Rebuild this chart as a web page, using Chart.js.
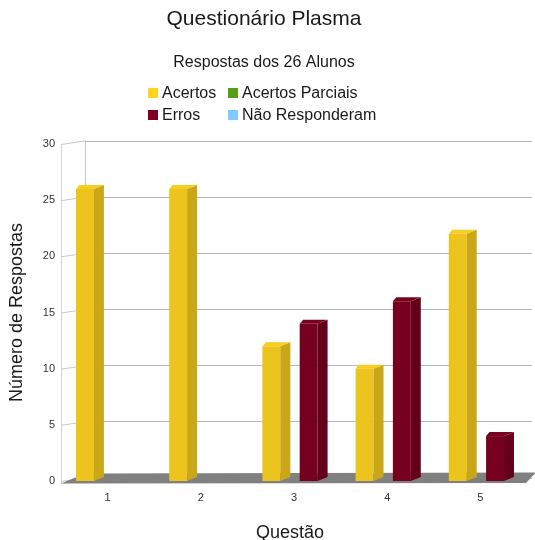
<!DOCTYPE html>
<html>
<head>
<meta charset="utf-8">
<script src="https://cdn.jsdelivr.net/npm/chart.js@4/dist/chart.umd.min.js"></script>
<style>
  html, body { margin: 0; padding: 0; background: #ffffff; }
  #wrap { width: 535px; height: 540px; }
</style>
</head>
<body>
<div id="wrap"><canvas id="c" width="535" height="540"></canvas></div>
<script>
// Answers per question (26 students)
const questions = ['1', '2', '3', '4', '5'];
const acertos = [26, 26, 12, 10, 22];
const acertosParciais = [0, 0, 0, 0, 0];
const erros = [0, 0, 14, 16, 4];
const naoResponderam = [0, 0, 0, 0, 0];
const seriesNames = ['Acertos', 'Acertos Parciais', 'Erros', 'Não Responderam'];
const seriesColors = ['#ffd320', '#579d1c', '#7e0021', '#83caff'];
const yTicks = [0, 5, 10, 15, 20, 25, 30];

const FONT = "'Liberation Sans', Arial, sans-serif";
const DX = 10, DY = 4; // depth offset of bar side/top faces

function shade(hex, f) {
  const n = parseInt(hex.slice(1), 16);
  const r = Math.round(((n >> 16) & 255) * f);
  const g = Math.round(((n >> 8) & 255) * f);
  const b = Math.round((n & 255) * f);
  return `rgb(${Math.min(255, r)},${Math.min(255, g)},${Math.min(255, b)})`;
}

// Back wall, left wall ticks and floor, drawn behind the bars
const depthFrame = {
  id: 'depthFrame',
  beforeDatasetsDraw(chart) {
    const { ctx, chartArea: ca, scales: { y } } = chart;
    const frontX = ca.left + 4, backX = ca.left + 28, backRight = ca.right + 9;
    const top = y.getPixelForValue(yTicks[yTicks.length - 1]);
    const zero = y.getPixelForValue(0);
    ctx.save();
    ctx.lineWidth = 1;
    // front left edge
    ctx.strokeStyle = '#d4d4d4';
    ctx.beginPath();
    ctx.moveTo(frontX + 0.5, top);
    ctx.lineTo(frontX + 0.5, zero + 3);
    ctx.stroke();
    // back wall left edge
    ctx.strokeStyle = '#c4c4c4';
    ctx.beginPath();
    ctx.moveTo(backX + 0.5, top - 3.5);
    ctx.lineTo(backX + 0.5, zero - 3.5);
    ctx.stroke();
    // grid lines on the back wall plus slanted ticks on the side wall
    for (const v of yTicks) {
      const p = y.getPixelForValue(v);
      ctx.strokeStyle = '#b8b8b8';
      ctx.beginPath();
      ctx.moveTo(backX, Math.round(p - 3.5) + 0.5);
      ctx.lineTo(backRight, Math.round(p - 3.5) + 0.5);
      ctx.stroke();
      ctx.strokeStyle = '#c8c8c8';
      ctx.beginPath();
      ctx.moveTo(frontX, p + 0.5);
      ctx.lineTo(backX, p - 3);
      ctx.stroke();
    }
    // floor
    ctx.fillStyle = '#808080';
    ctx.beginPath();
    ctx.moveTo(frontX, zero + 2.5);
    ctx.lineTo(ca.right + 3, zero + 2);
    ctx.lineTo(ca.right + 13, zero - 8.5);
    ctx.lineTo(backX, zero - 7.5);
    ctx.closePath();
    ctx.fill();
    ctx.restore();
  },
  afterDatasetsDraw(chart) {
    const { ctx } = chart;
    ctx.save();
    chart.data.datasets.forEach((ds, i) => {
      const meta = chart.getDatasetMeta(i);
      if (meta.hidden) return;
      const base = seriesColors[i];
      meta.data.forEach((bar, j) => {
        if (!(ds.data[j] > 0)) return;
        const { x, y, base: yb, width } = bar.getProps(['x', 'y', 'base', 'width'], true);
        const x0 = x - width / 2, x1 = x + width / 2;
        // side face
        ctx.fillStyle = shade(base, 0.79);
        ctx.beginPath();
        ctx.moveTo(x1, y);
        ctx.lineTo(x1 + DX, y - DY);
        ctx.lineTo(x1 + DX, yb - DY);
        ctx.lineTo(x1, yb);
        ctx.closePath();
        ctx.fill();
        // top face
        ctx.fillStyle = shade(base, 0.97);
        ctx.beginPath();
        ctx.moveTo(x0, y);
        ctx.lineTo(x1, y);
        ctx.lineTo(x1 + DX, y - DY);
        ctx.lineTo(x0 + DX * 0.35, y - DY);
        ctx.closePath();
        ctx.fill();
      });
    });
    ctx.restore();
  }
};

// Two-column legend under the subtitle
const gridLegend = {
  id: 'gridLegend',
  afterDraw(chart) {
    const { ctx } = chart;
    const colX = [148, 228];
    const rowY = [93, 115];
    ctx.save();
    ctx.font = `16px ${FONT}`;
    ctx.textBaseline = 'middle';
    ctx.textAlign = 'left';
    chart.data.datasets.forEach((ds, i) => {
      const cx = colX[i % 2], cy = rowY[Math.floor(i / 2)];
      ctx.fillStyle = seriesColors[i];
      ctx.fillRect(cx, cy - 5, 10, 10);
      ctx.fillStyle = '#1a1a1a';
      ctx.fillText(ds.label, cx + 14, cy + 0.5);
    });
    ctx.restore();
  }
};

const stackOf = ['a', 'a', 'b', 'b'];
const seriesData = [acertos, acertosParciais, erros, naoResponderam];

new Chart(document.getElementById('c'), {
  type: 'bar',
  data: {
    labels: questions,
    datasets: seriesNames.map((name, i) => ({
      label: name,
      data: seriesData[i],
      stack: stackOf[i],
      backgroundColor: shade(seriesColors[i], 0.93),
      borderWidth: 0,
      categoryPercentage: 0.8,
      barPercentage: 0.48
    }))
  },
  options: {
    responsive: false,
    animation: false,
    events: [],
    layout: { padding: { left: 5, right: 12, top: 0, bottom: 0 } },
    plugins: {
      legend: { display: false },
      tooltip: { enabled: false },
      title: {
        display: true,
        text: 'Questionário Plasma',
        color: '#1a1a1a',
        font: { family: FONT, size: 21, weight: 'normal' },
        padding: { top: 7, bottom: 0 }
      },
      subtitle: {
        display: true,
        text: 'Respostas dos 26 Alunos',
        color: '#1a1a1a',
        font: { family: FONT, size: 16, weight: 'normal' },
        padding: { top: 21, bottom: 71.6 }
      }
    },
    scales: {
      x: {
        grid: { display: false, drawTicks: false },
        border: { display: false },
        ticks: { color: '#333', font: { family: FONT, size: 11 }, padding: 10, labelOffset: 4 },
        title: {
          display: true,
          text: 'Questão',
          color: '#1a1a1a',
          font: { family: FONT, size: 18 },
          padding: { top: 0, bottom: -4 }
        },
        afterFit(scale) { scale.height = 59; }
      },
      y: {
        min: 0,
        max: 30,
        grid: { display: false, drawTicks: false },
        border: { display: false },
        ticks: { stepSize: 5, color: '#333', font: { family: FONT, size: 11 }, padding: 2 },
        title: {
          display: true,
          text: 'Número de Respostas',
          color: '#1a1a1a',
          font: { family: FONT, size: 18 },
          padding: { top: 1, bottom: 0 }
        },
        afterFit(scale) { scale.width = 52; }
      }
    }
  },
  plugins: [depthFrame, gridLegend]
});
</script>
</body>
</html>
